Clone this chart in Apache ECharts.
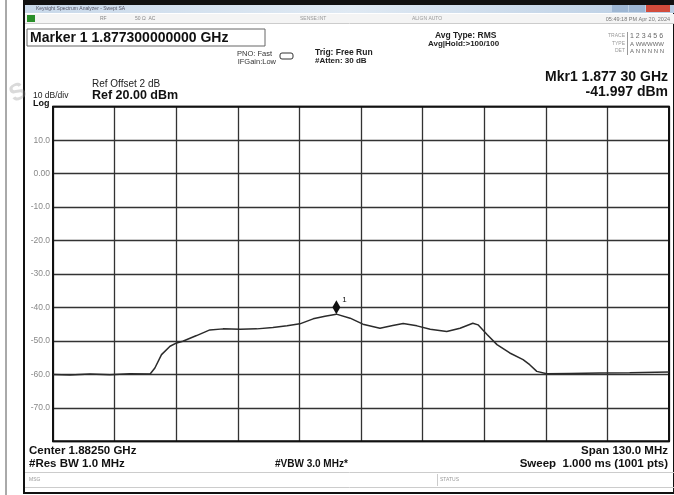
<!DOCTYPE html>
<html>
<head>
<meta charset="utf-8">
<script src="https://cdn.jsdelivr.net/npm/echarts@6/dist/echarts.min.js"></script>
<style>
html,body{margin:0;padding:0;background:#fff;}
#main{width:674px;height:495px;}
</style>
</head>
<body>
<div id="main"></div>
<script>
// 扫描参数
var startMHz = 1817.5;
var spanMHz = 130;
var markerMHz = 1877.3;
var markerDbm = -41.997;

// 迹线数据（MHz / dBm）
var freqMHz = [1817.5, 1821.1, 1825.3, 1829.5, 1833.7, 1838.0, 1839.0, 1840.4, 1842.2, 1843.6,
    1844.9, 1847.8, 1850.6, 1853.4, 1857.0, 1860.5, 1863.9, 1866.9, 1869.6, 1872.4,
    1874.9, 1877.3, 1880.2, 1882.9, 1886.5, 1889.2, 1891.4, 1894.3, 1897.1, 1900.6,
    1903.4, 1906.1, 1907.2, 1909.1, 1911.2, 1913.9, 1916.7, 1918.1, 1919.6, 1921.7,
    1926.6, 1932.9, 1939.2, 1947.5];
var levelDbm = [-60.0, -60.2, -59.9, -60.1, -59.8, -59.9, -58.1, -54.1, -51.6, -50.6,
    -50.1, -48.4, -46.7, -46.4, -46.5, -46.4, -46.0, -45.5, -44.9, -43.4,
    -42.6, -42.0, -43.2, -45.0, -46.2, -45.4, -44.8, -45.5, -46.5, -47.2,
    -46.2, -44.7, -45.2, -48.1, -51.1, -53.6, -55.6, -57.1, -59.1, -59.8,
    -59.7, -59.6, -59.5, -59.3];

// 纵轴刻度标签
var yTickLabels = {'10': '10.0', '0': '0.00', '-10': '-10.0', '-20': '-20.0', '-30': '-30.0',
    '-40': '-40.0', '-50': '-50.0', '-60': '-60.0', '-70': '-70.0'};

function txt(x, y, s, font, align, color) {
    return {
        type: 'text', z: 10,
        style: {x: x, y: y, text: s, font: font, fill: color || '#111',
            textAlign: align || 'left', textVerticalAlign: 'middle'}
    };
}

var myChart = echarts.init(document.getElementById('main'), null, {renderer: 'canvas'});

var traceData = freqMHz.map(function (f, i) {
    return [f - startMHz, levelDbm[i]];
});

var F = '"Liberation Sans", Arial, sans-serif';
var option = {
    backgroundColor: '#fff',
    animation: false,
    grid: {left: 53, right: 5, top: 106.7, bottom: 53.7, show: false},
    xAxis: {
        type: 'value',
        min: 0, max: spanMHz, interval: spanMHz / 10,
        axisLabel: {show: false},
        axisTick: {show: false},
        axisLine: {show: false},
        splitLine: {show: true, lineStyle: {color: '#333', width: 1.3}}
    },
    yAxis: {
        type: 'value',
        min: -80, max: 20, interval: 10,
        axisLabel: {
            color: '#888', fontSize: 8.5, fontFamily: 'Liberation Sans', margin: 3,
            formatter: function (v) { return yTickLabels[String(v)] || ''; }
        },
        axisTick: {show: false},
        axisLine: {show: false},
        splitLine: {show: true, lineStyle: {color: '#333', width: 1.3}}
    },
    graphic: [
        // 外框
        {type: 'line', shape: {x1: 6, y1: 0, x2: 6, y2: 495}, style: {stroke: '#555', lineWidth: 1}},
        {type: 'rect', shape: {x: 24, y: 1, width: 650, height: 492}, style: {fill: 'none', stroke: '#111', lineWidth: 2}},
        {type: 'rect', shape: {x: 25, y: 2, width: 649, height: 3}, style: {fill: '#111'}},
        // 标题栏
        {type: 'rect', shape: {x: 25, y: 5, width: 649, height: 8},
            style: {fill: new echarts.graphic.LinearGradient(0, 0, 1, 0, [
                {offset: 0, color: '#c9d9ea'}, {offset: 0.5, color: '#dfe9f3'}, {offset: 1, color: '#b9cde3'}])}},
        txt(36, 9, 'Keysight Spectrum Analyzer - Swept SA', '5px ' + F, 'left', '#556'),
        {type: 'rect', shape: {x: 612, y: 5, width: 16, height: 7}, style: {fill: '#9db6d3'}},
        {type: 'rect', shape: {x: 629, y: 5, width: 16, height: 7}, style: {fill: '#9db6d3'}},
        {type: 'rect', shape: {x: 646, y: 5, width: 24, height: 7}, style: {fill: '#d24c3c'}},
        // 状态行
        {type: 'rect', shape: {x: 25, y: 14, width: 649, height: 9}, style: {fill: '#f4f4f4'}},
        {type: 'rect', shape: {x: 27, y: 15, width: 8, height: 7}, style: {fill: '#2a8f2a'}},
        txt(100, 19, 'RF', '5px ' + F, 'left', '#888'),
        txt(135, 19, '50 Ω  AC', '5px ' + F, 'left', '#888'),
        txt(300, 19, 'SENSE:INT', '5px ' + F, 'left', '#999'),
        txt(412, 19, 'ALIGN AUTO', '5px ' + F, 'left', '#999'),
        txt(670, 19, '05:49:18 PM Apr 20, 2024', '5.5px ' + F, 'right', '#777'),
        {type: 'line', shape: {x1: 25, y1: 23.5, x2: 674, y2: 23.5}, style: {stroke: '#ccc', lineWidth: 1}},
        // 标记信息
        {type: 'rect', shape: {x: 27, y: 29, width: 238, height: 17}, style: {fill: 'none', stroke: '#666', lineWidth: 1}},
        txt(30, 38, 'Marker 1 1.877300000000 GHz', 'bold 14px ' + F),
        txt(272, 54, 'PNO: Fast', '7.5px ' + F, 'right', '#333'),
        txt(276, 62, 'IFGain:Low', '7.5px ' + F, 'right', '#333'),
        {type: 'rect', shape: {x: 280, y: 53, width: 13, height: 6, r: 2}, style: {fill: 'none', stroke: '#333', lineWidth: 1}},
        txt(315, 53, 'Trig: Free Run', 'bold 8.5px ' + F, 'left', '#222'),
        txt(315, 61, '#Atten: 30 dB', 'bold 8px ' + F, 'left', '#222'),
        txt(435, 36, 'Avg Type: RMS', 'bold 8.5px ' + F, 'left', '#222'),
        txt(428, 44, 'Avg|Hold:>100/100', 'bold 8px ' + F, 'left', '#222'),
        txt(625, 36, 'TRACE', '5px ' + F, 'right', '#999'),
        txt(625, 44, 'TYPE', '5px ' + F, 'right', '#999'),
        txt(625, 51, 'DET', '5px ' + F, 'right', '#999'),
        {type: 'line', shape: {x1: 627.5, y1: 32, x2: 627.5, y2: 55}, style: {stroke: '#999', lineWidth: 1}},
        txt(630, 36, '1 2 3 4 5 6', '7px ' + F, 'left', '#666'),
        txt(630, 44, 'A WWWWW', '6px ' + F, 'left', '#666'),
        txt(630, 51, 'A N N N N N', '6px ' + F, 'left', '#666'),
        txt(668, 77, 'Mkr1 1.877 30 GHz', 'bold 14px ' + F, 'right'),
        txt(668, 92, '-41.997 dBm', 'bold 14px ' + F, 'right'),
        txt(92, 84, 'Ref Offset 2 dB', '10px ' + F, 'left', '#222'),
        txt(92, 96, 'Ref 20.00 dBm', 'bold 12.5px ' + F),
        txt(33, 96, '10 dB/div', '8.5px ' + F, 'left', '#222'),
        txt(33, 104, 'Log', 'bold 9px ' + F),
        // 水印
        {type: 'text', z: 1, x: 18, y: 93, rotation: 0.45,
            style: {text: 'S', font: 'bold 24px ' + F, fill: 'rgba(150,150,150,0.35)', textAlign: 'center', textVerticalAlign: 'middle'}},
        // 绘图区边框
        {type: 'rect', z: 5, shape: {x: 53, y: 106.7, width: 616, height: 334.6},
            style: {fill: 'none', stroke: '#111', lineWidth: 2}},
        // 底部参数
        txt(29, 451, 'Center 1.88250 GHz', 'bold 11.5px ' + F),
        txt(29, 464, '#Res BW 1.0 MHz', 'bold 11.5px ' + F),
        txt(275, 464, '#VBW 3.0 MHz*', 'bold 10px ' + F),
        txt(668, 451, 'Span 130.0 MHz', 'bold 11.5px ' + F, 'right'),
        txt(668, 464, 'Sweep  1.000 ms (1001 pts)', 'bold 11.5px ' + F, 'right'),
        {type: 'line', shape: {x1: 25, y1: 472.5, x2: 674, y2: 472.5}, style: {stroke: '#ccc', lineWidth: 1}},
        txt(29, 480, 'MSG', '5px ' + F, 'left', '#999'),
        txt(440, 480, 'STATUS', '5px ' + F, 'left', '#999'),
        {type: 'line', shape: {x1: 437.5, y1: 474, x2: 437.5, y2: 486}, style: {stroke: '#ccc', lineWidth: 1}},
        {type: 'line', shape: {x1: 25, y1: 487.5, x2: 674, y2: 487.5}, style: {stroke: '#ccc', lineWidth: 1}}
    ],
    series: [
        {
            type: 'line',
            data: traceData,
            showSymbol: false,
            lineStyle: {color: '#2b2b2b', width: 1.5},
            z: 6,
            markPoint: {
                symbol: 'diamond',
                symbolSize: [8, 14],
                symbolOffset: [0, -7],
                itemStyle: {color: '#111'},
                label: {show: true, formatter: '1', position: [10, -4], color: '#111', fontSize: 8, fontFamily: 'Liberation Sans'},
                data: [{coord: [markerMHz - startMHz, markerDbm]}]
            }
        }
    ]
};
myChart.setOption(option);
</script>
</body>
</html>
